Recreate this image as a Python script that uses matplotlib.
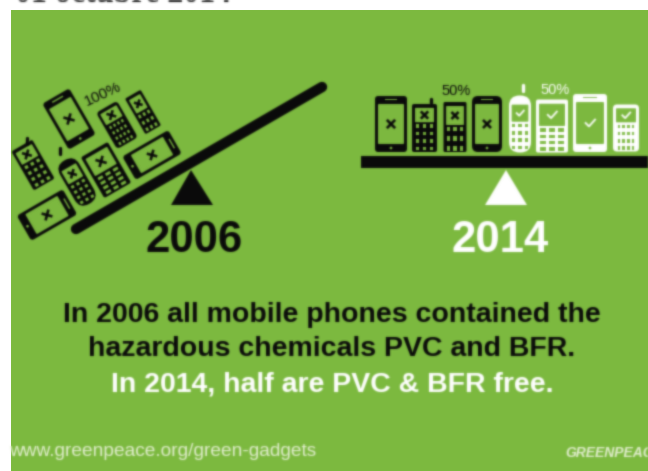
import numpy as np
import matplotlib
matplotlib.use('Agg')
import matplotlib.pyplot as plt
from matplotlib.patches import FancyBboxPatch, Rectangle, Polygon, Circle
from matplotlib.lines import Line2D
from matplotlib.transforms import Affine2D

years = ['2006', '2014']
share_labels = ['100%', '50%', '50%']
caption_black = ['In 2006 all mobile phones contained the', 'hazardous chemicals PVC and BFR.']
caption_white = 'In 2014, half are PVC & BFR free.'
footer_url = 'www.greenpeace.org/green-gadgets'
footer_logo = 'GREENPEACE'
page_date = '01 octubre 2014'

GREEN = '#7cb93f'
BLACK = '#0a0a0a'
WHITE = '#ffffff'
SANS = 'Liberation Sans'


def blur(img, dpi):
    # soften edges, the source picture is a blurry upscale
    pad = 3
    img = np.pad(img, ((pad, pad), (pad, pad), (0, 0)))
    a = img[..., 3:]
    pre = np.concatenate([img[..., :3] * a, a], axis=2)
    kernel = np.array([1, 3, 8, 3, 1]) / 16
    for axis in (0, 1):
        pre = sum(np.roll(pre, i - 2, axis=axis) * k for i, k in enumerate(kernel))
    a = np.maximum(pre[..., 3:], 1e-4)
    out = np.concatenate([np.clip(pre[..., :3] / a, 0, 1), pre[..., 3:]], axis=2)
    return out, -pad, -pad


fig = plt.figure(figsize=(6.48, 4.71), dpi=100, facecolor='white')
ax = fig.add_axes([0, 0, 1, 1])
ax.set_xlim(0, 648)
ax.set_ylim(471, 0)
ax.axis('off')

ax.add_patch(Rectangle((11, 10), 637, 461, fc=GREEN, ec='none', zorder=0))


def draw_phone(cx, cy, w, h, angle, color, kind, mark):
    tr = Affine2D().rotate_deg(-angle).translate(cx, cy) + ax.transData
    x0, y0 = -w / 2, -h / 2

    def box(x, y, bw, bh, fc, r=0.0):
        if r > 0:
            p = FancyBboxPatch((x + r, y + r), bw - 2 * r, bh - 2 * r,
                               boxstyle='round,pad=%f,rounding_size=%f' % (r, r),
                               fc=fc, ec='none', transform=tr, zorder=3)
        else:
            p = Rectangle((x, y), bw, bh, fc=fc, ec='none', transform=tr, zorder=3)
        ax.add_patch(p)

    radius = {'smart': 3.0, 'round': 6.0, 'bar': 2.0, 'oval': w * 0.48, 'berry': 4.0, 'slide': 1.5}[kind]
    box(x0, y0, w, h, color, radius)

    if kind in ('smart', 'round'):
        box(x0 + 3, y0 + 8, w - 6, h - 16, GREEN, 1.0)
        ax.add_patch(Circle((0, h / 2 - 4), 1.3, fc=GREEN, ec='none', transform=tr, zorder=4))
        box(-w * 0.2, y0 + 3, w * 0.4, 1.4, GREEN)
        sy = 0
    else:
        top = h * (0.16 if kind == 'oval' else 0.08)
        if kind == 'slide':
            sh = h * 0.38
        elif kind == 'bar' and w > 28:
            sh = h * 0.42
        else:
            sh = h * 0.30
        inset = 3.0 if w > 24 else 2.6
        box(x0 + inset, y0 + top, w - 2 * inset, sh, GREEN, 0.8)
        sy = y0 + top + sh / 2
        rows = 3 if kind == 'slide' else 4
        cols = 4 if kind == 'berry' else 3
        kx = np.linspace(x0 + w * 0.22, -x0 - w * 0.22, cols)
        ky = np.linspace(y0 + top + sh + 4, h / 2 - (5 if kind == 'oval' else 3.5), rows)
        kh = (ky[1] - ky[0]) * (0.55 if w > 28 else 0.48)
        kw = (kx[1] - kx[0]) * (0.62 if w > 28 else 0.5)
        for xx in kx:
            for yy in ky:
                box(xx - kw / 2, yy - kh / 2, kw, kh, GREEN)

    size = min(w, h) * 0.07 + 1.0
    if mark == 'x':
        for s in (1, -1):
            ax.add_line(Line2D([-size, size], [sy - s * size, sy + s * size], color=color,
                               lw=1.9, transform=tr, zorder=5))
    else:
        ax.add_line(Line2D([-size * 1.3, -size * 0.3, size * 1.5], [sy, sy + size, sy - size],
                           color=color, lw=1.3, transform=tr, zorder=5))


def antenna(x, y, angle, length, color):
    rad = np.deg2rad(angle)
    dx, dy = np.sin(rad) * length, np.cos(rad) * length
    ax.add_line(Line2D([x, x + dx], [y, y + dy], color=color, lw=2.4, solid_capstyle='round', zorder=3))


# 2006 scale, everything tilted with the beam
tilt = 30
ax.add_line(Line2D([76, 322], [229, 87], color=BLACK, lw=7.5, solid_capstyle='round', zorder=2))
ax.add_patch(Polygon([(191, 170), (171, 205), (213, 205)], fc=BLACK, ec='none', zorder=2))
draw_phone(69, 119, 31, 53, tilt, BLACK, 'smart', 'x')
draw_phone(117, 125, 24, 42, tilt, BLACK, 'berry', 'x')
draw_phone(143, 112, 18, 41, tilt, BLACK, 'slide', 'x')
draw_phone(33, 165, 24, 45, tilt, BLACK, 'bar', 'x')
antenna(27, 138, 0, 5, BLACK)
draw_phone(77, 182, 22, 50, tilt, BLACK, 'oval', 'x')
antenna(60, 148, 0, 6, BLACK)
draw_phone(106, 170, 31, 47, tilt, BLACK, 'bar', 'x')
draw_phone(152, 155, 27, 53, tilt - 90, BLACK, 'smart', 'x')
draw_phone(47, 215, 29, 53, tilt - 90, BLACK, 'smart', 'x')

# 2014 scale, level
ax.add_patch(Rectangle((361, 156), 287, 12, fc=BLACK, ec='none', zorder=2))
ax.add_patch(Polygon([(506, 170), (485, 205), (527, 205)], fc=WHITE, ec='none', zorder=2))
draw_phone(391, 124, 32, 56, 0, BLACK, 'smart', 'x')
draw_phone(424.5, 128, 25, 48, 0, BLACK, 'bar', 'x')
antenna(431, 99, 0, 5, BLACK)
draw_phone(455, 127, 23, 50, 0, BLACK, 'slide', 'x')
draw_phone(487, 124, 30, 56, 0, BLACK, 'round', 'x')
draw_phone(520, 124, 22, 57, 0, WHITE, 'oval', 'check')
antenna(523, 85, 0, 6, WHITE)
draw_phone(552, 126, 32, 53, 0, WHITE, 'bar', 'check')
draw_phone(590, 123, 34, 58, 0, WHITE, 'smart', 'check')
draw_phone(626, 128, 26, 47, 0, WHITE, 'berry', 'check')

# text
texts = [
    ax.text(194, 240, years[0], color=BLACK, family=SANS, weight='bold', fontsize=31.5, ha='center', va='center'),
    ax.text(500, 240, years[1], color=WHITE, family=SANS, weight='bold', fontsize=31.5, ha='center', va='center'),
    ax.text(103, 94, share_labels[0], color=BLACK, family=SANS, fontsize=11, rotation=25, ha='center', va='center'),
    ax.text(456, 91, share_labels[1], color=BLACK, family=SANS, fontsize=10.5, ha='center', va='center'),
    ax.text(555, 90, share_labels[2], color=WHITE, family=SANS, fontsize=10.5, ha='center', va='center'),
    ax.text(332, 315, caption_black[0], color=BLACK, family=SANS, weight='bold', fontsize=20.5, ha='center', va='center'),
    ax.text(332, 349, caption_black[1], color=BLACK, family=SANS, weight='bold', fontsize=20.5, ha='center', va='center'),
    ax.text(332, 384, caption_white, color=WHITE, family=SANS, weight='bold', fontsize=20.5, ha='center', va='center'),
    ax.text(9, 452, footer_url, color='#e4efd2', family=SANS, fontsize=13.8, ha='left', va='center'),
    ax.text(565, 453, footer_logo, color='#e4efd2', family=SANS, weight='bold', style='italic', fontsize=10, ha='left', va='center'),
    ax.text(15, 2, page_date, color=BLACK, family='Liberation Serif', weight='bold', fontsize=23, ha='left', va='baseline'),
]

for artist in list(ax.patches) + list(ax.lines) + texts:
    if artist.get_zorder() > 0:
        artist.set_agg_filter(blur)

fig.savefig('out.png', dpi=100)
